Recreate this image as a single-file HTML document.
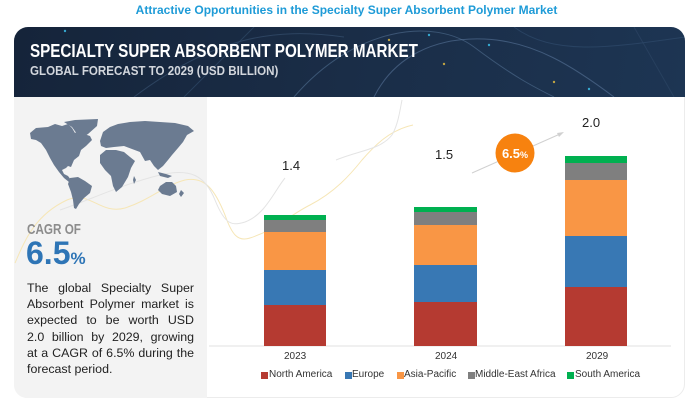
<!DOCTYPE html>
<html><head><meta charset="utf-8">
<style>
*{margin:0;padding:0;box-sizing:border-box}
html,body{width:693px;height:401px;background:#fff;overflow:hidden;font-family:"Liberation Sans",Arial,sans-serif}
.abs{position:absolute;white-space:nowrap}
#top{left:0;width:693px;top:3px;text-align:center;font-size:12px;font-weight:bold;color:#1e9bd7;line-height:14px}
#card{left:14px;top:27px;width:671px;height:371px;border:1px solid #ececec;border-radius:14px;background:#fff;overflow:hidden}
#hdr{left:14px;top:27px;width:671px;height:70px;border-radius:14px 14px 0 0;overflow:hidden;background:linear-gradient(100deg,#15243a 0%,#1a2d47 50%,#1d3553 100%)}
#left{left:14px;top:97px;width:193px;height:301px;background:#f3f3f3;border-radius:0 0 0 13px}
.t1{left:30px;top:40px;font-size:18px;font-weight:bold;color:#fff;transform:scaleX(0.845);transform-origin:0 0;line-height:22px}
.t2{left:30px;top:63px;font-size:13px;color:#d3d7dd;transform:scaleX(0.89);transform-origin:0 0;line-height:16px;font-weight:bold}
#cagr{left:27px;top:221px;font-size:15px;color:#8c8c8c;transform:scaleX(0.78);transform-origin:0 0;line-height:18px;font-weight:bold}
#big{left:26px;top:235px;font-size:32px;color:#2e75b6;line-height:36px;font-weight:bold}
#big span{font-size:17px}
#para{position:absolute;left:27px;top:280px;width:167px;font-size:12.4px;line-height:16.2px;color:#222}
#para div{white-space:nowrap;text-align:justify;text-align-last:justify;width:167px}
#para div.last{text-align-last:left}
.v{font-size:13px;color:#222;line-height:15px}
.x{font-size:10px;color:#333;line-height:12px}
.lg{font-size:10px;color:#333;line-height:12px}
.sq{position:absolute;width:7px;height:7px}
</style></head><body>
<div class="abs" id="top">Attractive Opportunities in the Specialty Super Absorbent Polymer Market</div>
<div class="abs" id="card"></div>
<div class="abs" id="hdr">
<svg width="671" height="70" style="position:absolute;left:0;top:0">
<g fill="none" stroke-width="1">
<path d="M120 70 C200 10 260 0 330 10" stroke="#3a5575" opacity=".6"/>
<path d="M280 70 C340 0 420 -10 460 20 S 520 60 540 70" stroke="#4a6688" opacity=".7"/>
<path d="M360 70 C380 30 420 10 470 12 C520 14 560 40 600 70" stroke="#587599" opacity=".6"/>
<path d="M240 0 L170 70" stroke="#2e4868" opacity=".7"/>
<path d="M500 0 C540 30 600 20 671 10" stroke="#2f4a6b" opacity=".7"/>
<path d="M620 0 L660 70" stroke="#2e4868" opacity=".6"/>
</g>
<circle cx="51" cy="4" r="1.2" fill="#3cc6f0" opacity=".8"/>
<circle cx="415" cy="8" r="1.2" fill="#3cc6f0" opacity=".8"/>
<circle cx="475" cy="18" r="1.2" fill="#3cc6f0" opacity=".8"/>
<circle cx="430" cy="37" r="1.2" fill="#e8c040" opacity=".8"/>
<circle cx="375" cy="13" r="1.2" fill="#e8c040" opacity=".8"/>
<circle cx="540" cy="55" r="1.2" fill="#e8c040" opacity=".8"/>
<circle cx="575" cy="62" r="1.2" fill="#3cc6f0" opacity=".8"/>
</svg>
</div>
<div class="abs t1">SPECIALTY SUPER ABSORBENT POLYMER MARKET</div>
<div class="abs t2">GLOBAL FORECAST TO 2029 (USD BILLION)</div>
<div class="abs" id="left"></div>

<svg width="693" height="401" style="position:absolute;left:0;top:0">
<g fill="none" stroke-width="1">
<path d="M15 263 C25 240 35 215 67 200 C90 190 100 215 125 208 C150 200 165 185 185 180 C205 176 215 190 225 215 C232 235 238 242 250 238 C275 230 290 215 310 205 C335 192 350 175 362 160 C375 145 390 130 413 125" stroke="#f6e6b6"/>
<path d="M60 210 C90 200 120 185 160 175 C190 168 205 175 215 200 C225 225 232 226 245 222 C265 215 275 190 285 178 M336 160 C360 150 380 150 392 135 C398 125 400 110 402 100" stroke="#e4e4e4"/>
</g>
<g fill="#6b7b91">
<path d="M30 133 L36 128 L48 127 L55 124 L62 126 L68 124 L72 128 L75 133 L80 130 L84 134 L90 136 L92 140 L86 146 L81 150 L79 156 L74 160 L71 167 L68 166 L66 168 L62 170 L64 174 L68 176 L71 180 L69 182 L64 178 L59 172 L54 165 L50 158 L46 150 L41 143 L36 140 L31 139 Z"/>
<path d="M64 122 L75 120 L98 119 L97 126 L88 134 L82 138 L77 134 L72 127 Z"/>
<path d="M70 178 L78 177 L85 181 L92 186 L90 193 L84 198 L79 204 L76 209 L74 208 L73 200 L71 192 L68 184 Z"/>
<path d="M100 141 L103 132 L110 127 L118 124 L130 122 L145 121 L160 122 L175 123 L188 126 L194 131 L187 135 L183 142 L178 148 L172 155 L168 160 L163 166 L158 170 L154 166 L150 160 L145 161 L140 152 L132 149 L124 146 L114 147 L106 148 L101 146 Z"/>
<path d="M100 155 L106 150 L116 150 L124 152 L130 157 L135 161 L131 168 L128 177 L122 187 L116 192 L113 186 L111 176 L105 170 L100 163 Z"/>
<path d="M160 186 L166 182 L172 182 L176 186 L177 192 L170 196 L162 194 L158 190 Z"/>
<path d="M158 172 L166 174 L172 176 L168 178 L160 176 Z"/>
<path d="M181 190 L184 193 L181 197 L179 194 Z"/>
<path d="M134 176 L136 180 L134 184 L133 180 Z"/>
</g>
<line x1="209" y1="346" x2="671" y2="346" stroke="#ebebeb" stroke-width="1.5"/>
<g>
<rect x="264" y="215" width="62" height="5" fill="#00b050"/>
<rect x="264" y="220" width="62" height="12" fill="#7f7f7f"/>
<rect x="264" y="232" width="62" height="38" fill="#f99645"/>
<rect x="264" y="270" width="62" height="35" fill="#3878b4"/>
<rect x="264" y="305" width="62" height="41" fill="#b53a31"/>

<rect x="414" y="207" width="63" height="5" fill="#00b050"/>
<rect x="414" y="212" width="63" height="13" fill="#7f7f7f"/>
<rect x="414" y="225" width="63" height="40" fill="#f99645"/>
<rect x="414" y="265" width="63" height="37" fill="#3878b4"/>
<rect x="414" y="302" width="63" height="44" fill="#b53a31"/>

<rect x="565" y="156" width="62" height="7" fill="#00b050"/>
<rect x="565" y="163" width="62" height="17" fill="#7f7f7f"/>
<rect x="565" y="180" width="62" height="56" fill="#f99645"/>
<rect x="565" y="236" width="62" height="51" fill="#3878b4"/>
<rect x="565" y="287" width="62" height="59" fill="#b53a31"/>
</g>
<line x1="472" y1="173" x2="560" y2="134" stroke="#d0d0d0" stroke-width="1"/>
<path d="M564 132 L557 133 L559 137 Z" fill="#d0d0d0"/>
<circle cx="515" cy="153" r="19.5" fill="#f7820f"/>
<text x="515" y="158" text-anchor="middle" fill="#fff" font-family="Liberation Sans, Arial, sans-serif" font-size="13" font-weight="bold">6.5<tspan font-size="9">%</tspan></text>
</svg>

<div class="abs" id="cagr">CAGR OF</div>
<div class="abs" id="big">6.5<span>%</span></div>
<div id="para">
<div>The global Specialty Super</div>
<div>Absorbent Polymer market is</div>
<div>expected to be worth USD</div>
<div>2.0 billion by 2029, growing</div>
<div>at a CAGR of 6.5% during the</div>
<div class="last">forecast period.</div>
</div>

<div class="abs v" style="left:282px;top:158px">1.4</div>
<div class="abs v" style="left:435px;top:147px">1.5</div>
<div class="abs v" style="left:582px;top:115px">2.0</div>

<div class="abs x" style="left:284px;top:351px">2023</div>
<div class="abs x" style="left:435px;top:351px">2024</div>
<div class="abs x" style="left:586px;top:351px">2029</div>

<div class="sq" style="left:261px;top:372px;background:#b53a31"></div>
<div class="abs lg" style="left:269px;top:369px">North America</div>
<div class="sq" style="left:345px;top:372px;background:#3878b4"></div>
<div class="abs lg" style="left:352px;top:369px">Europe</div>
<div class="sq" style="left:397px;top:372px;background:#f99645"></div>
<div class="abs lg" style="left:404px;top:369px">Asia-Pacific</div>
<div class="sq" style="left:468px;top:372px;background:#7f7f7f"></div>
<div class="abs lg" style="left:475px;top:369px">Middle-East Africa</div>
<div class="sq" style="left:567px;top:372px;background:#00b050"></div>
<div class="abs lg" style="left:575px;top:369px">South America</div>
</body></html>
